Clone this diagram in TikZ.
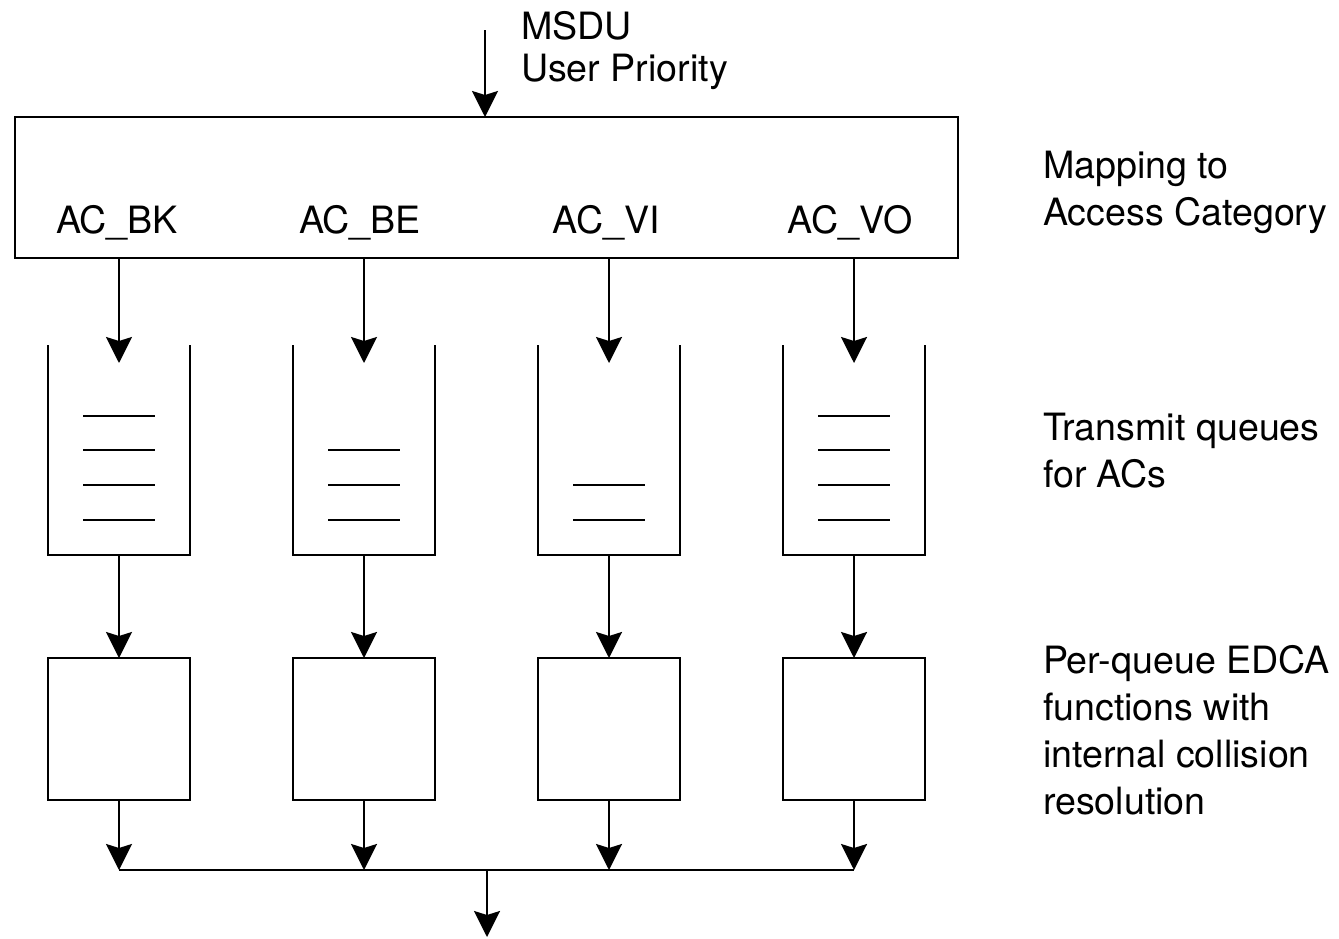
\documentclass[tikz,border=0pt]{standalone}
\usepackage{fontspec}
\setmainfont{TeX Gyre Heros}
\usepackage{tikz}
\usetikzlibrary{arrows.meta,positioning}

\begin{document}
\begin{tikzpicture}[x=0.5pt,y=-0.5pt,
	line width=1.2pt,
	every node/.style={font=\fontsize{18.8}{23.5}\selectfont, inner sep=0pt, outer sep=0pt},
	>={Stealth[length=13pt,width=13pt,inset=2pt]},
	edca/.style={draw, minimum width=71pt, minimum height=71pt},
	queue/.style={minimum width=71pt, minimum height=105pt},
	note/.style={align=left, anchor=north west}]
	
	\useasboundingbox (0,0) rectangle (1339,938);
	
	\node[note, font=\fontsize{18.8}{21}\selectfont](msdu) at (521,11){MSDU\\User Priority};
	\coordinate (in) at (485,30);
	
	\node[draw, minimum width=471.5pt, minimum height=70.5pt](map) at (486.5,187.5){};
	\node[anchor=base](bk) at (117,233){AC\_BK};
	\node[anchor=base](be) at (360,233){AC\_BE};
	\node[anchor=base](vi) at (606,233){AC\_VI};
	\node[anchor=base](vo) at (850,233){AC\_VO};
	
	\node[queue](q_bk) at (119,450){};
	\node[queue, right = 51.5pt of q_bk](q_be){};
	\node[queue, right = 51.5pt of q_be](q_vi){};
	\node[queue, right = 51.5pt of q_vi](q_vo){};
	
	\node[edca](e_bk) at (119,729){};
	\node[edca, below = 51.5pt of q_be](e_be){};
	\node[edca, below = 51.5pt of q_vi](e_vi){};
	\node[edca, below = 51.5pt of q_vo](e_vo){};
	
	\node[note](map_txt) at (1043,151){Mapping to\\Access Category};
	\node[note](q_txt) at (1043,413){Transmit queues\\for ACs};
	\node[note](e_txt) at (1043,645){Per-queue EDCA\\functions with\\internal collision\\resolution};
	
	\coordinate (bus) at (487,870);
	\coordinate (out) at (487,937);
	
	% queue walls
	\draw (q_bk.north west) |- (q_bk.south) -| (q_bk.north east);
	\draw (q_be.north west) |- (q_be.south) -| (q_be.north east);
	\draw (q_vi.north west) |- (q_vi.south) -| (q_vi.north east);
	\draw (q_vo.north west) |- (q_vo.south) -| (q_vo.north east);
	
	% queued frames
	\foreach \dy in {-34,0,35,70}
		\draw ([shift={(-36,\dy)}]q_bk.center) -- ([shift={(36,\dy)}]q_bk.center);
	\foreach \dy in {0,35,70}
		\draw ([shift={(-36,\dy)}]q_be.center) -- ([shift={(36,\dy)}]q_be.center);
	\foreach \dy in {35,70}
		\draw ([shift={(-36,\dy)}]q_vi.center) -- ([shift={(36,\dy)}]q_vi.center);
	\foreach \dy in {-34,0,35,70}
		\draw ([shift={(-36,\dy)}]q_vo.center) -- ([shift={(36,\dy)}]q_vo.center);
	
	\draw[->] (in) -- (in |- map.north);
	
	\draw[->] (map.south -| q_bk) -- ([yshift=-9pt]q_bk.north);
	\draw[->] (map.south -| q_be) -- ([yshift=-9pt]q_be.north);
	\draw[->] (map.south -| q_vi) -- ([yshift=-9pt]q_vi.north);
	\draw[->] (map.south -| q_vo) -- ([yshift=-9pt]q_vo.north);
	
	\draw[->] (q_bk.south) -- (e_bk.north);
	\draw[->] (q_be.south) -- (e_be.north);
	\draw[->] (q_vi.south) -- (e_vi.north);
	\draw[->] (q_vo.south) -- (e_vo.north);
	
	\draw[->] (e_bk.south) -- (e_bk.south |- bus);
	\draw[->] (e_be.south) -- (e_be.south |- bus);
	\draw[->] (e_vi.south) -- (e_vi.south |- bus);
	\draw[->] (e_vo.south) -- (e_vo.south |- bus);
	\draw (e_bk.south |- bus) -- (e_vo.south |- bus);
	\draw[->] (bus) -- (out);
	
\end{tikzpicture}
\end{document}
